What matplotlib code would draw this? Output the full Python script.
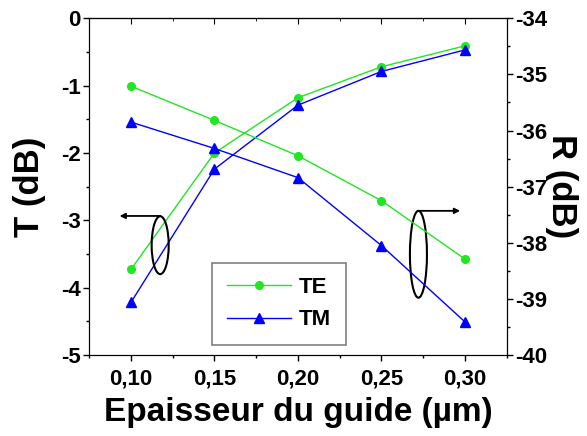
import matplotlib
matplotlib.use("Agg")
import matplotlib.pyplot as plt
from matplotlib.patches import Ellipse
from matplotlib.ticker import MultipleLocator, FuncFormatter

plt.rcParams['font.family'] = ['Liberation Sans', 'DejaVu Sans']
plt.rcParams['font.weight'] = 'bold'
plt.rcParams['axes.unicode_minus'] = False

# guide thickness (um)
thickness = [0.10, 0.15, 0.20, 0.25, 0.30]

# transmission T (dB), left axis
T_TE = [-3.73, -2.00, -1.18, -0.72, -0.41]
T_TM = [-4.22, -2.24, -1.29, -0.79, -0.47]

# reflection R (dB), right axis
R_TE = [-35.21, -35.82, -36.45, -37.25, -38.29]
R_TM = [-35.85, -36.32, -36.84, -38.05, -39.41]

green = '#22e622'
blue = '#0000ff'

fig = plt.figure(figsize=(5.87, 4.36), dpi=100)
ax = fig.add_axes([0.152, 0.186, 0.711, 0.772])
ax2 = ax.twinx()

l1, = ax.plot(thickness, T_TE, color=green, lw=1, marker='o', ms=5.5, label='TE')
l2, = ax.plot(thickness, T_TM, color=blue, lw=1, marker='^', ms=6.5, label='TM')
ax2.plot(thickness, R_TE, color=green, lw=1, marker='o', ms=5.5)
ax2.plot(thickness, R_TM, color=blue, lw=1, marker='^', ms=6.5)

ax.set_xlim(0.075, 0.325)
ax.set_ylim(-5, 0)
ax2.set_ylim(-40, -34)

ax.xaxis.set_major_locator(MultipleLocator(0.05))
ax.xaxis.set_minor_locator(MultipleLocator(0.025))
ax.yaxis.set_major_locator(MultipleLocator(1))
ax.yaxis.set_minor_locator(MultipleLocator(0.5))
ax2.yaxis.set_major_locator(MultipleLocator(1))
ax2.yaxis.set_minor_locator(MultipleLocator(0.5))
ax.xaxis.set_major_formatter(FuncFormatter(lambda v, p: f"{v:.2f}".replace('.', ',')))
ax.yaxis.set_major_formatter(FuncFormatter(lambda v, p: f"{v:.0f}"))
ax2.yaxis.set_major_formatter(FuncFormatter(lambda v, p: f"{v:.0f}"))

ax.tick_params(which='major', direction='out', length=4, width=1, labelsize=16, pad=2)
ax.tick_params(which='minor', direction='out', length=2.5, width=1)
ax.tick_params(axis='x', pad=6)
ax2.tick_params(which='major', direction='out', length=4, width=1, labelsize=16, pad=2)
ax2.tick_params(which='minor', direction='out', length=2.5, width=1)

# inward ticks along the top edge
top = ax.secondary_xaxis('top')
top.xaxis.set_major_locator(MultipleLocator(0.05))
top.xaxis.set_minor_locator(MultipleLocator(0.025))
top.tick_params(which='major', direction='in', length=4, labeltop=False)
top.tick_params(which='minor', direction='in', length=2.5)

ax.set_xlabel('Epaisseur du guide (µm)', fontsize=24, fontweight='bold', labelpad=5)
ax.set_ylabel('T (dB)', fontsize=25, fontweight='bold', labelpad=11)
ax2.set_ylabel('R (dB)', fontsize=25, fontweight='bold', rotation=270, labelpad=22)

# circles with arrows pointing to their axes
ax.add_patch(Ellipse((0.1175, -3.37), 0.0102, 0.86, fill=False, ec='black', lw=1.5, zorder=5))
ax.annotate('', xy=(0.0932, -2.936), xytext=(0.1175, -2.936),
            arrowprops=dict(arrowstyle='-|>', color='black', lw=1.3, mutation_scale=8,
                            shrinkA=0, shrinkB=0))
ax.add_patch(Ellipse((0.2722, -3.505), 0.0102, 1.29, fill=False, ec='black', lw=1.5, zorder=5))
ax.annotate('', xy=(0.2972, -2.86), xytext=(0.2722, -2.86),
            arrowprops=dict(arrowstyle='-|>', color='black', lw=1.3, mutation_scale=8,
                            shrinkA=0, shrinkB=0))

leg = ax.legend(handles=[l1, l2], loc='lower left', bbox_to_anchor=(0.295, 0.03),
                borderaxespad=0, fancybox=False, edgecolor='#808080', framealpha=1,
                prop={'size': 16, 'weight': 'bold'}, handlelength=2.9, handletextpad=0.35,
                borderpad=0.65, labelspacing=0.5)
leg.get_frame().set_linewidth(1.2)

fig.savefig('out.png', dpi=100)
